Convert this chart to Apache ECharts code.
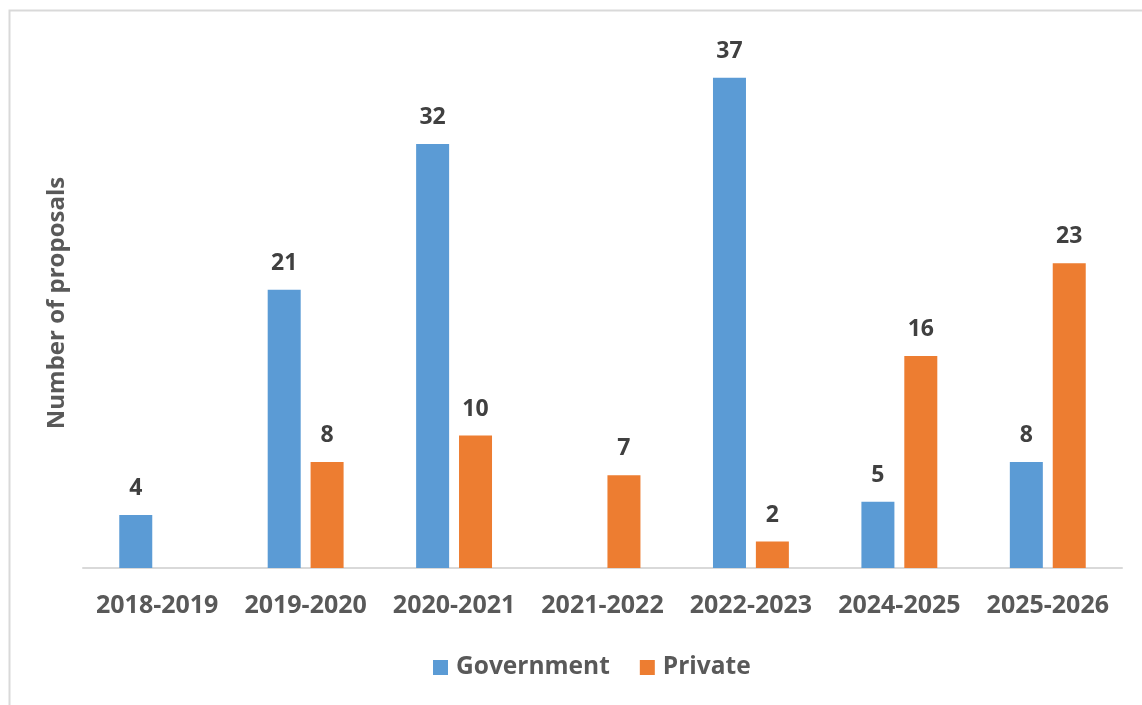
<!DOCTYPE html>
<html>
<head>
<meta charset="utf-8">
<script src="https://cdn.jsdelivr.net/npm/echarts@6/dist/echarts.min.js"></script>
<style>
html,body{margin:0;padding:0;background:#fff;}
#chart{width:1142px;height:705px;}
</style>
</head>
<body>
<div id="chart"></div>
<script>
const categories = ['2018-2019','2019-2020','2020-2021','2021-2022','2022-2023','2024-2025','2025-2026'];
const government = [4, 21, 32, null, 37, 5, 8];
const privateVals = [null, 8, 10, 7, 2, 16, 23];
const seriesNames = ['Government', 'Private'];
const yTitle = 'Number of proposals';

const chart = echarts.init(document.getElementById('chart'), null, {renderer: 'canvas'});
const font = '"Open Sans", "Noto Sans", sans-serif';
const labelCfg = {
  show: true, position: 'top', distance: 15,
  color: '#404040', fontFamily: font, fontWeight: 'bold', fontSize: 23
};
chart.setOption({
  animation: false,
  backgroundColor: '#fff',
  graphic: [{
    type: 'rect', left: 7, top: 8, z: -10,
    shape: {x: 0, y: 0, width: 1200, height: 800},
    style: {fill: 'none', stroke: '#d9d9d9', lineWidth: 2}
  }],
  grid: {left: 83, right: 20, top: 38, bottom: 137},
  legend: {
    bottom: 20, left: 428,
    itemWidth: 15, itemHeight: 15, itemGap: 30,
    icon: 'rect',
    textStyle: {color: '#595959', fontFamily: font, fontWeight: 'bold', fontSize: 24.5, padding: [0,0,0,3]},
    data: seriesNames
  },
  xAxis: {
    type: 'category', data: categories,
    axisLine: {show: true, lineStyle: {color: '#d9d9d9', width: 2}},
    axisTick: {show: false},
    axisLabel: {color: '#595959', fontFamily: font, fontWeight: 'bold', fontSize: 25, margin: 25, interval: 0}
  },
  yAxis: {
    type: 'value', min: 0, max: 40,
    name: yTitle, nameLocation: 'middle', nameGap: 14, nameRotate: 90,
    nameTextStyle: {color: '#595959', fontFamily: font, fontWeight: 'bold', fontSize: 24},
    axisLine: {show: false}, axisTick: {show: false},
    axisLabel: {show: false}, splitLine: {show: false}
  },
  series: [
    {name: seriesNames[0], type: 'bar', data: government, barWidth: 33, barGap: '30%',
     itemStyle: {color: '#5B9BD5'}, label: labelCfg},
    {name: seriesNames[1], type: 'bar', data: privateVals, barWidth: 33, barGap: '30%',
     itemStyle: {color: '#ED7D31'}, label: labelCfg}
  ]
});
</script>
</body>
</html>
